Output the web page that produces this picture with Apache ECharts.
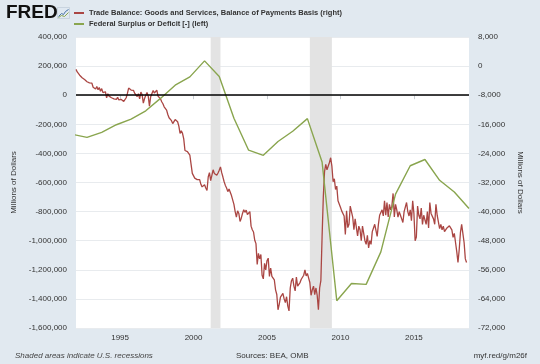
<!DOCTYPE html>
<html>
<head>
<meta charset="utf-8">
<script src="https://cdn.jsdelivr.net/npm/echarts@6/dist/echarts.min.js"></script>
<style>
html,body{margin:0;padding:0;background:#e1e9f0;}
#chart{width:540px;height:364px;}
</style>
</head>
<body>
<div id="chart"></div>
<script>
// ---- Data (millions of dollars) ----
const seriesNames = [
  'Trade Balance: Goods and Services, Balance of Payments Basis (right)',
  'Federal Surplus or Deficit [-] (left)'
];
// Monthly trade balance, starting January 1992
const tradeStartYear = 1992;
const trade1992 = [-900, -1600, -2100, -2500, -2300, -3200, -2800, -3700, -3400, -4300, -3900, -4600];
const trade1993 = [-5100, -4700, -5800, -5300, -6300, -5600, -6500, -5900, -6900, -6200, -7300, -6800];
const trade1994 = [-7050, -8700, -7600, -8250, -8050, -8700, -8350, -9000, -8700, -9150, -8600, -9300];
const trade1995 = [-9450, -9150, -9350, -9700, -10100, -8700, -7500, -6050, -6050, -6600, -7050, -6700];
const trade1996 = [-7500, -7050, -8350, -7600, -9000, -7150, -7900, -10200, -8900, -8000, -7250, -8250];
const trade1997 = [-11000, -8400, -8050, -6700, -7400, -7900, -6600, -8250, -8600, -9000, -9800, -10350];
const trade1998 = [-11200, -11600, -12100, -13300, -14200, -14500, -15000, -15800, -15600, -14700, -14900, -15300];
const trade1999 = [-16500, -18500, -17800, -18500, -20000, -23200, -23700, -23500, -24000, -24500, -27000, -29500];
const trade2000 = [-29000, -30800, -31000, -31200, -31500, -31200, -32500, -33200, -33500, -32600, -33500, -34200];
const trade2001 = [-30500, -29300, -31500, -31000, -28500, -29500, -29800, -30000, -29400, -28600, -27700, -29300];
const trade2002 = [-30500, -31800, -32800, -33500, -34500, -33800, -34300, -35600, -36000, -38000, -40000, -41500];
const trade2003 = [-39800, -40500, -42700, -41800, -40500, -39500, -40200, -39600, -40800, -41200, -40000, -44000];
const trade2004 = [-45000, -45600, -47900, -48800, -54500, -51500, -53000, -51800, -57500, -58500, -54200, -56000];
const trade2005 = [-53500, -52800, -57800, -55500, -57800, -58000, -58800, -61500, -62800, -67000, -65500, -63500];
const trade2006 = [-63000, -62500, -64000, -65000, -63400, -66000, -67300, -61000, -59000, -58300, -60500, -61800];
const trade2007 = [-58000, -60500, -61000, -59500, -58600, -58200, -57500, -56000, -57700, -57000, -56500, -59500];
const trade2008 = [-63000, -61500, -60500, -62800, -61000, -63000, -67000, -61000, -59000, -47000, -36000, -29000];
const trade2009 = [-27000, -28500, -29000, -26500, -25200, -27500, -31800, -31000, -33900, -33000, -37000, -36500];
const trade2010 = [-38800, -39800, -39500, -41200, -46300, -39800, -44400, -43500, -38500, -38000, -41500, -45000];
const trade2011 = [-42000, -42500, -46700, -44000, -45000, -48000, -44000, -44500, -48000, -49000, -46500, -50000];
const trade2012 = [-48000, -49000, -45500, -44500, -43500, -44000, -46800, -43500, -41000, -41500, -39500, -41200];
const trade2013 = [-37000, -41000, -37500, -41500, -38000, -39500, -38500, -35000, -41500, -38000, -39500, -41500];
const trade2014 = [-40000, -41000, -42000, -43000, -40000, -40500, -37500, -40000, -41200, -39500, -42500, -37000];
const trade2015 = [-40500, -48000, -47000, -38500, -41000, -42000, -39000, -43500, -41000, -41200, -43500, -40000];
const trade2016 = [-44500, -37500, -40500, -41000, -42000, -43500, -38000, -41000, -42800, -44700, -43500, -45000];
const trade2017 = [-44000, -45500, -46000, -44500, -45000, -43900, -44000, -45000, -47100, -46000, -48500, -51000];
const trade2018 = [-54000, -50500, -45800, -43500, -44000, -48500, -53000, -54000];

// Federal surplus/deficit by fiscal year (plotted at October of that year)
const fiscalYears = [1991, 1992, 1993, 1994, 1995, 1996, 1997, 1998, 1999, 2000, 2001, 2002, 2003, 2004,
  2005, 2006, 2007, 2008, 2009, 2010, 2011, 2012, 2013, 2014, 2015, 2016, 2017, 2018];
const federalBalance = [-269000, -290000, -255000, -203000, -164000, -107000, -22000, 69000, 126000, 236000,
  128000, -158000, -378000, -413000, -318000, -248000, -161000, -459000, -1413000, -1294000, -1300000,
  -1077000, -680000, -485000, -442000, -585000, -665000, -779000];

// Recessions [start year, start month, end year, end month]
const recessions = [[2001, 3, 2001, 11], [2007, 12, 2009, 6]];

// Axis ticks
const xTickYears = [1995, 2000, 2005, 2010, 2015];
const xRange = { startYear: 1992, startMonth: 1, endYear: 2018, endMonth: 10 };
const leftAxis = { min: -1600000, max: 400000, step: 200000 };
const rightAxis = { min: -72000, max: 8000, step: 8000 };

// ---- Build series (x in fractional years) ----
function yearFrac(y, m) { return y + (m - 1) / 12; }
const tradeAll = [].concat(trade1992, trade1993, trade1994, trade1995, trade1996, trade1997, trade1998,
  trade1999, trade2000, trade2001, trade2002, trade2003, trade2004, trade2005, trade2006, trade2007,
  trade2008, trade2009, trade2010, trade2011, trade2012, trade2013, trade2014, trade2015, trade2016,
  trade2017, trade2018);
const tradeData = tradeAll.map(function (v, i) {
  return [yearFrac(tradeStartYear + Math.floor(i / 12), (i % 12) + 1), v];
});
const fedData = fiscalYears.map(function (y, i) { return [yearFrac(y, 10), federalBalance[i]]; });

const fmt = function (v) { return echarts.format.addCommas(v); };
const font = '"Liberation Sans", Arial, sans-serif';

const chart = echarts.init(document.getElementById('chart'), null, { renderer: 'canvas' });
chart.setOption({
  backgroundColor: '#e1e9f0',
  animation: false,
  textStyle: { fontFamily: font },
  legend: {
    data: seriesNames,
    orient: 'vertical',
    left: 69,
    top: 4,
    itemGap: 3,
    itemWidth: 10,
    itemHeight: 2,
    icon: 'rect',
    selectedMode: false,
    textStyle: { fontSize: 7.5, fontWeight: 'bold', color: '#333', fontFamily: font }
  },
  grid: {
    left: 76, right: 71, top: 37, bottom: 36,
    show: true, backgroundColor: '#ffffff', borderWidth: 0
  },
  xAxis: {
    type: 'value',
    min: yearFrac(xRange.startYear, xRange.startMonth),
    max: yearFrac(xRange.endYear, xRange.endMonth),
    axisLine: { show: false },
    axisTick: {
      show: true, length: 4, lineStyle: { color: '#c8cdd2' },
      customValues: xTickYears
    },
    axisLabel: {
      fontSize: 8, color: '#333', margin: 6,
      customValues: xTickYears,
      formatter: function (v) { return String(Math.round(v)); }
    },
    splitLine: { show: false }
  },
  yAxis: [
    {
      type: 'value',
      min: leftAxis.min, max: leftAxis.max, interval: leftAxis.step,
      name: 'Millions of Dollars',
      nameLocation: 'middle',
      nameRotate: 90,
      nameGap: 57,
      nameTextStyle: { fontSize: 8, color: '#333' },
      axisLine: { show: false },
      axisTick: { show: false },
      axisLabel: { fontSize: 8, color: '#333', margin: 9, formatter: fmt },
      splitLine: { show: true, lineStyle: { color: '#e8ebee', width: 1 } }
    },
    {
      type: 'value',
      min: rightAxis.min, max: rightAxis.max, interval: rightAxis.step,
      name: 'Millions of Dollars',
      nameLocation: 'middle',
      nameRotate: -90,
      nameGap: 46,
      nameTextStyle: { fontSize: 8, color: '#333' },
      axisLine: { show: false },
      axisTick: { show: false },
      axisLabel: { fontSize: 8, color: '#333', margin: 9, formatter: fmt },
      splitLine: { show: false }
    }
  ],
  series: [
    {
      name: seriesNames[0],
      type: 'line',
      yAxisIndex: 1,
      data: tradeData,
      showSymbol: false,
      symbol: 'none',
      color: '#aa4643',
      lineStyle: { color: '#aa4643', width: 1.3 },
      z: 3,
      markArea: {
        silent: true,
        itemStyle: { color: '#e3e3e3' },
        data: recessions.map(function (r) {
          return [{ xAxis: yearFrac(r[0], r[1]) }, { xAxis: yearFrac(r[2], r[3]) }];
        })
      }
    },
    {
      name: seriesNames[1],
      type: 'line',
      yAxisIndex: 0,
      data: fedData,
      showSymbol: false,
      symbol: 'none',
      color: '#89a54e',
      lineStyle: { color: '#89a54e', width: 1.4 },
      z: 4,
      markLine: {
        silent: true,
        symbol: 'none',
        label: { show: false },
        lineStyle: { color: '#000', width: 1.5, type: 'solid' },
        data: [{ yAxis: 0 }]
      }
    }
  ],
  graphic: [
    { type: 'text', left: 6, top: 3, style: { text: 'FRED', font: 'bold 19px ' + font, fill: '#111' } },
    {
      type: 'group', left: 56, top: 7,
      children: [
        { type: 'rect', shape: { x: 0, y: 0, width: 12, height: 11 }, style: { fill: '#dfe8f1', stroke: '#b8c6d4', lineWidth: 0.6 } },
        { type: 'polyline', shape: { points: [[1, 9], [4, 6], [6, 7], [8, 4], [11, 2]] }, style: { stroke: '#4572a7', fill: null, lineWidth: 1 } },
        { type: 'polyline', shape: { points: [[1, 10], [4, 8], [7, 9], [11, 5]] }, style: { stroke: '#89a54e', fill: null, lineWidth: 1 } }
      ]
    },
    { type: 'text', left: 15, top: 352, style: { text: 'Shaded areas indicate U.S. recessions', font: 'italic 8px ' + font, fill: '#444' } },
    { type: 'text', left: 236, top: 352, style: { text: 'Sources: BEA, OMB', font: '8px ' + font, fill: '#333' } },
    { type: 'text', right: 13, top: 352, style: { text: 'myf.red/g/m26f', font: '8px ' + font, fill: '#333' } }
  ]
});
</script>
</body>
</html>
